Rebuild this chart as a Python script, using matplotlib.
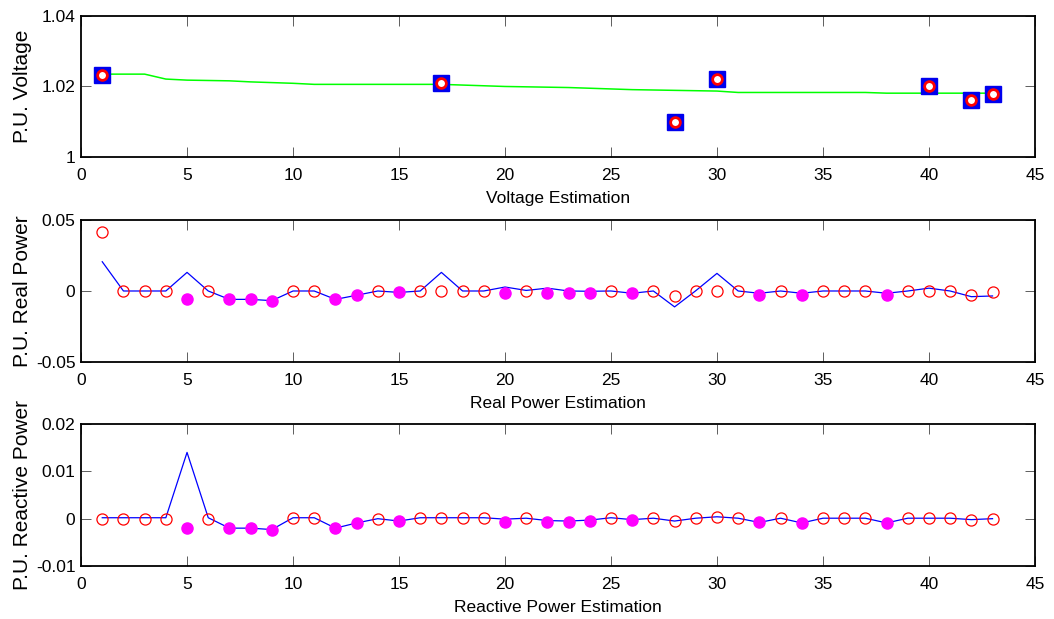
import numpy as np
import matplotlib
matplotlib.use('Agg')
import matplotlib.pyplot as plt

plt.rcParams['font.family'] = ['Liberation Sans', 'DejaVu Sans']
plt.rcParams['font.size'] = 12.5

bus = np.arange(1, 44)

# voltage profile (estimated) and measured voltages
volt_est = [1.0235, 1.0235, 1.0235, 1.0221, 1.0218, 1.0217, 1.0216, 1.0213, 1.0211, 1.0209,
            1.0206, 1.0206, 1.0206, 1.0206, 1.0206, 1.0206, 1.0206, 1.0204, 1.0202, 1.0200,
            1.0199, 1.0198, 1.0197, 1.0195, 1.0193, 1.0191, 1.0190, 1.0189, 1.0188, 1.0187,
            1.0183, 1.0183, 1.0183, 1.0183, 1.0183, 1.0183, 1.0183, 1.0181, 1.0181, 1.0181,
            1.0181, 1.0181, 1.0181]
volt_bus = [1, 17, 28, 30, 40, 42, 43]
volt_meas = [1.0232, 1.0210, 1.0098, 1.0222, 1.0200, 1.0162, 1.0178]

# real power
p_est = [0.0206, 0, 0, 0, 0.0131, 0, -0.0059, -0.0059, -0.0068, 0,
         0, -0.0059, -0.0030, 0, -0.0010, 0, 0.0131, 0, 0, 0.0028,
         0.0004, 0.0020, 0.0000, -0.0002, 0, -0.0016, 0, -0.0112, 0.0002, 0.0124,
         0, -0.0016, 0, -0.0016, 0, 0, 0, -0.0016, 0, 0.0020,
         0, -0.0040, -0.0035]
meas_bus = [1, 2, 3, 4, 6, 10, 11, 14, 16, 17, 18, 19, 21, 25, 27, 28, 29, 30, 31,
            33, 35, 36, 37, 39, 40, 41, 42, 43]
p_meas = [0.0414, 0, 0, 0, 0, 0, 0, 0, 0, 0, 0, 0, 0, 0, 0, -0.0033, 0, 0, 0,
          0, 0, 0, 0, 0, 0, 0, -0.0030, -0.0010]
pseudo_bus = [5, 7, 8, 9, 12, 13, 15, 20, 22, 23, 24, 26, 32, 34, 38]
p_pseudo = [-0.0059, -0.0059, -0.0059, -0.0068, -0.0059, -0.0030, -0.0010, -0.0014,
            -0.0012, -0.0016, -0.0016, -0.0016, -0.0030, -0.0030, -0.0030]

# reactive power
q_est = [0.0002, 0.0002, 0.0002, 0.0002, 0.0140, 0.0002, -0.0020, -0.0020, -0.0023, 0.0002,
         0.0002, -0.0020, -0.0009, 0.0000, -0.0005, 0.0002, 0.0002, 0.0002, 0.0002, -0.0001,
         0.0001, -0.0004, -0.0005, -0.0003, 0.0002, -0.0002, 0.0001, -0.0005, 0.0001, 0.0004,
         0.0001, -0.0008, 0.0001, -0.0009, 0.0001, 0.0001, 0.0001, -0.0009, 0.0001, 0.0001,
         0.0001, -0.0002, 0.0000]
q_meas = [0, 0, 0, 0, 0, 0.0002, 0.0002, 0.0000, 0.0002, 0.0002, 0.0002, 0.0002, 0.0001,
          0.0002, 0.0001, -0.0005, 0.0001, 0.0004, 0.0001, 0.0001, 0.0001, 0.0001, 0.0001,
          0.0001, 0.0001, 0.0001, -0.0002, 0.0000]
q_pseudo = [-0.0020, -0.0020, -0.0020, -0.0023, -0.0020, -0.0009, -0.0005, -0.0007,
            -0.0006, -0.0007, -0.0004, -0.0002, -0.0008, -0.0009, -0.0009]

fig = plt.figure(figsize=(10.54, 6.19), dpi=100)
ax1 = fig.add_axes([0.0769, 0.7464, 0.905, 0.2278])
ax2 = fig.add_axes([0.0769, 0.4152, 0.905, 0.2294])
ax3 = fig.add_axes([0.0769, 0.0856, 0.905, 0.2294])

ax1.plot(bus, volt_est, color='#00ff00', lw=1.1)
ax1.plot(volt_bus, volt_meas, 's', color='#0000ee', markersize=12, markeredgecolor='#0000ee', linestyle='none')
ax1.plot(volt_bus, volt_meas, 'o', markerfacecolor='white', markeredgecolor='red', markersize=7,
         markeredgewidth=2, linestyle='none')
ax1.set_ylim(1, 1.04)
ax1.set_yticks([1, 1.02, 1.04])
ax1.set_yticklabels(['1', '1.02', '1.04'])
ax1.set_ylabel('P.U. Voltage', fontsize=15)
ax1.set_xlabel('Voltage Estimation')

ax2.plot(bus, p_est, color='blue', lw=0.9)
ax2.plot(meas_bus, p_meas, 'o', markerfacecolor='none', markeredgecolor='red', markersize=8,
         markeredgewidth=0.9, linestyle='none')
ax2.plot(pseudo_bus, p_pseudo, 'o', color='magenta', markersize=8, linestyle='none')
ax2.set_ylim(-0.05, 0.05)
ax2.set_yticks([-0.05, 0, 0.05])
ax2.set_yticklabels(['-0.05', '0', '0.05'])
ax2.set_ylabel('P.U. Real Power', fontsize=15)
ax2.set_xlabel('Real Power Estimation')

ax3.plot(bus, q_est, color='blue', lw=0.9)
ax3.plot(meas_bus, q_meas, 'o', markerfacecolor='none', markeredgecolor='red', markersize=8,
         markeredgewidth=0.9, linestyle='none')
ax3.plot(pseudo_bus, q_pseudo, 'o', color='magenta', markersize=8, linestyle='none')
ax3.set_ylim(-0.01, 0.02)
ax3.set_yticks([-0.01, 0, 0.01, 0.02])
ax3.set_yticklabels(['-0.01', '0', '0.01', '0.02'])
ax3.set_ylabel('P.U. Reactive Power', fontsize=15)
ax3.set_xlabel('Reactive Power Estimation')

for ax in (ax1, ax2, ax3):
    ax.set_xlim(0, 45)
    ax.set_xticks(range(0, 46, 5))
    ax.tick_params(direction='in', top=True, right=True, length=7.5, width=0.6, color='#444444',
                   labelsize=12.5)
    ax.tick_params(axis='x', pad=8)
    ax.tick_params(axis='y', pad=4)
    ax.xaxis.labelpad = 6
    ax.yaxis.set_label_coords(-0.051, 0.5)
    for s in ax.spines.values():
        s.set_linewidth(1.3)

fig.savefig('out.png', dpi=100)
